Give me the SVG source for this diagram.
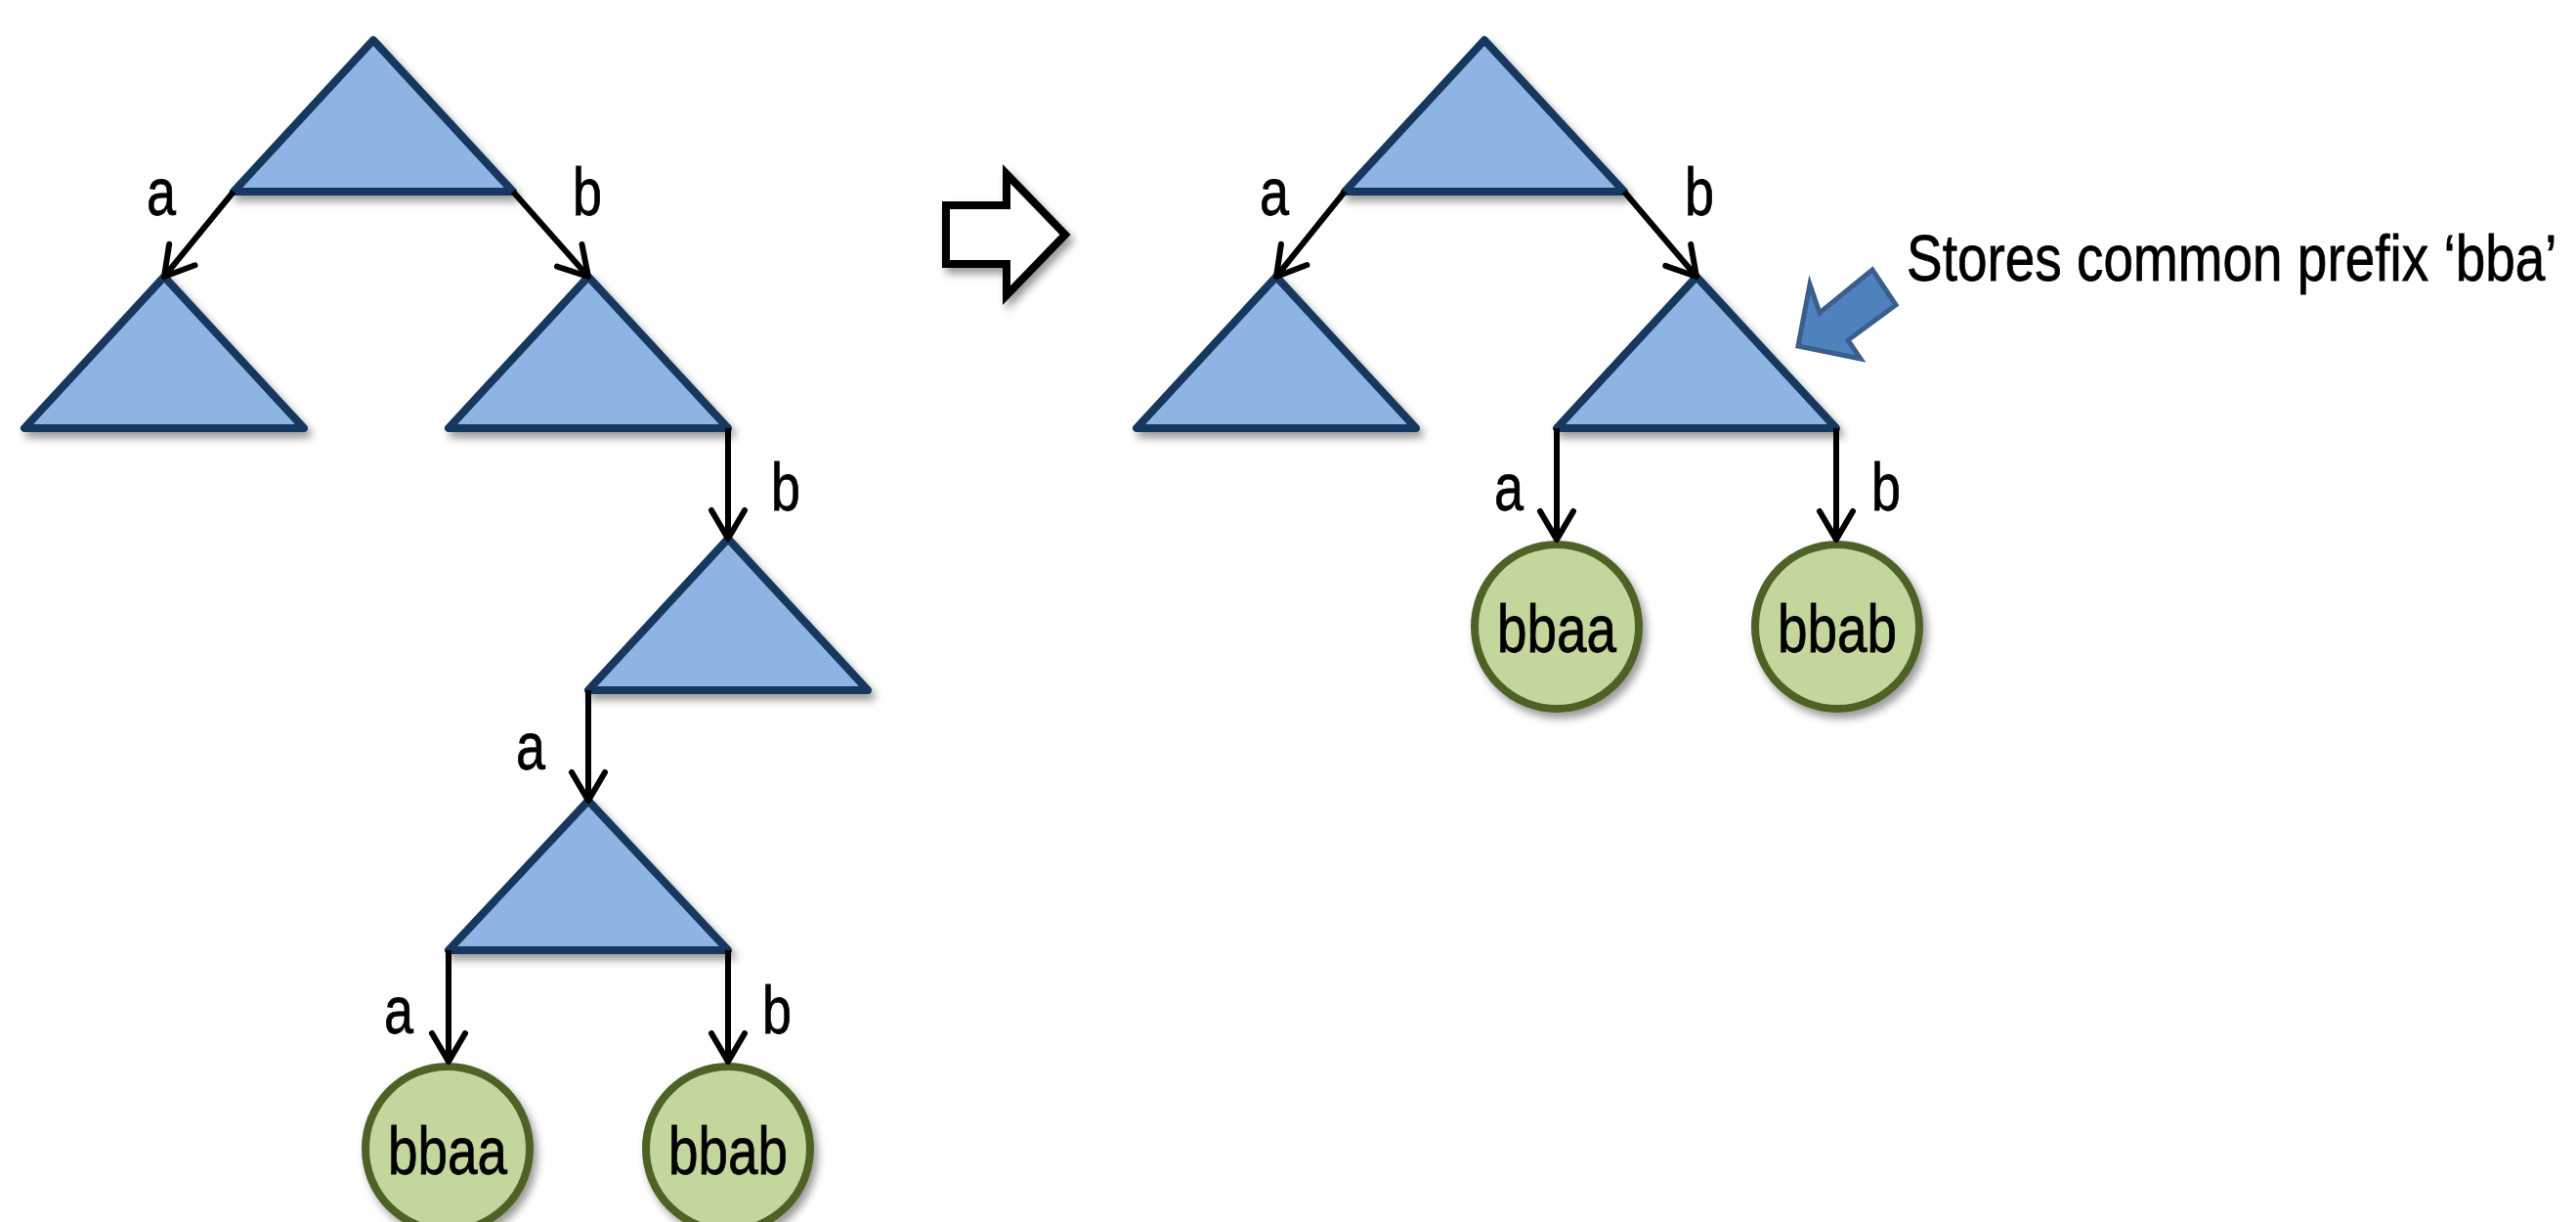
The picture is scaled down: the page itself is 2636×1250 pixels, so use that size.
<svg xmlns="http://www.w3.org/2000/svg" width="2636" height="1250" viewBox="0 0 2636 1250">
  <defs>
    <filter id="shadow" x="-20%" y="-20%" width="150%" height="160%">
      <feDropShadow dx="4" dy="6" stdDeviation="4" flood-color="#000" flood-opacity="0.4"/>
    </filter>
    <marker id="head" markerUnits="userSpaceOnUse" orient="auto" refX="0" refY="0"
            viewBox="-36 -24 42 48" markerWidth="42" markerHeight="48" overflow="visible">
      <path d="M-29,-17 L0,0 L-29,17" fill="none" stroke="#000" stroke-width="6"
            stroke-linecap="round" stroke-linejoin="round"/>
    </marker>
    <style>
      .tri { fill: #8EB4E3; stroke: #17375E; stroke-width: 8; stroke-linejoin: round; filter: url(#shadow); }
      .leaf { fill: #C3D69B; stroke: #4F6228; stroke-width: 8; filter: url(#shadow); }
      .edge { fill: none; stroke: #000; stroke-width: 6; marker-end: url(#head); }
      .lbl { font-family: "Liberation Sans Narrow", "Liberation Sans", Arial, sans-serif; font-size: 68px; fill: #000; stroke: #000; stroke-width: 0.8; }
      .note { font-family: "Liberation Sans", Arial, sans-serif; font-size: 67px; fill: #000; stroke: #000; stroke-width: 0.8; }
      .mid { text-anchor: middle; }
    </style>
  </defs>
  <rect width="2636" height="1250" fill="#fff"/>

  <!-- left trie: one node per character -->
  <g id="L-root"><polygon class="tri" points="382,41 239,196 525,196"/></g>
  <g id="L-a"><polygon class="tri" points="168,283 25,438 311,438"/></g>
  <g id="L-b"><polygon class="tri" points="602,283 459,438 745,438"/></g>
  <g id="L-bb"><polygon class="tri" points="745,551 602,706 888,706"/></g>
  <g id="L-bba"><polygon class="tri" points="602,819 459,972 745,972"/></g>
  <g id="L-bbaa">
    <circle class="leaf" cx="458" cy="1175" r="84"/>
    <text class="lbl mid" x="458" y="1201" textLength="122" lengthAdjust="spacingAndGlyphs">bbaa</text>
  </g>
  <g id="L-bbab">
    <circle class="leaf" cx="745" cy="1175" r="84"/>
    <text class="lbl mid" x="745" y="1201" textLength="122" lengthAdjust="spacingAndGlyphs">bbab</text>
  </g>

  <!-- transformation arrow -->
  <g id="transform-arrow">
    <polygon points="968,210 1030,210 1030,178 1090,240 1030,302 1030,270 968,270"
             fill="#fff" stroke="#000" stroke-width="8" stroke-linejoin="miter" filter="url(#shadow)"/>
  </g>

  <!-- right trie: shared prefix collapsed into one node -->
  <g id="R-root"><polygon class="tri" points="1519,41 1376,196 1662,196"/></g>
  <g id="R-a"><polygon class="tri" points="1306,283 1163,438 1449,438"/></g>
  <g id="R-bba"><polygon class="tri" points="1736,283 1593,438 1879,438"/></g>
  <g id="R-bbaa">
    <circle class="leaf" cx="1593" cy="641" r="84"/>
    <text class="lbl mid" x="1593" y="667" textLength="122" lengthAdjust="spacingAndGlyphs">bbaa</text>
  </g>
  <g id="R-bbab">
    <circle class="leaf" cx="1880" cy="641" r="84"/>
    <text class="lbl mid" x="1880" y="667" textLength="122" lengthAdjust="spacingAndGlyphs">bbab</text>
  </g>

  <!-- callout -->
  <g id="callout">
    <polygon points="1840,354 1852,291 1862,320 1916,276 1940,312 1891,348 1904,367"
             fill="#4F81BD" stroke="#3A5F8D" stroke-width="5" stroke-linejoin="miter"/>
    <text class="note" transform="translate(1951,287) scale(0.82,1)" x="0" y="0">Stores common prefix ‘bba’</text>
  </g>

  <!-- connectors -->
  <g id="connectors">
    <line class="edge" x1="239" y1="196" x2="168" y2="283"/>
    <line class="edge" x1="525" y1="196" x2="602" y2="283"/>
    <line class="edge" x1="745" y1="438" x2="745" y2="551"/>
    <line class="edge" x1="602" y1="706" x2="602" y2="819"/>
    <line class="edge" x1="459" y1="972" x2="459" y2="1086"/>
    <line class="edge" x1="745" y1="972" x2="745" y2="1086"/>

    <line class="edge" x1="1376" y1="196" x2="1306" y2="283"/>
    <line class="edge" x1="1662" y1="196" x2="1736" y2="283"/>
    <line class="edge" x1="1593" y1="438" x2="1593" y2="552"/>
    <line class="edge" x1="1879" y1="438" x2="1879" y2="552"/>

    <text class="lbl mid" x="165" y="220" textLength="30" lengthAdjust="spacingAndGlyphs">a</text>
    <text class="lbl mid" x="601" y="220" textLength="30" lengthAdjust="spacingAndGlyphs">b</text>
    <text class="lbl mid" x="804" y="522" textLength="30" lengthAdjust="spacingAndGlyphs">b</text>
    <text class="lbl mid" x="543" y="787" textLength="30" lengthAdjust="spacingAndGlyphs">a</text>
    <text class="lbl mid" x="408" y="1057" textLength="30" lengthAdjust="spacingAndGlyphs">a</text>
    <text class="lbl mid" x="795" y="1057" textLength="30" lengthAdjust="spacingAndGlyphs">b</text>

    <text class="lbl mid" x="1304" y="220" textLength="30" lengthAdjust="spacingAndGlyphs">a</text>
    <text class="lbl mid" x="1739" y="220" textLength="30" lengthAdjust="spacingAndGlyphs">b</text>
    <text class="lbl mid" x="1544" y="522" textLength="30" lengthAdjust="spacingAndGlyphs">a</text>
    <text class="lbl mid" x="1930" y="522" textLength="30" lengthAdjust="spacingAndGlyphs">b</text>
  </g>
</svg>
